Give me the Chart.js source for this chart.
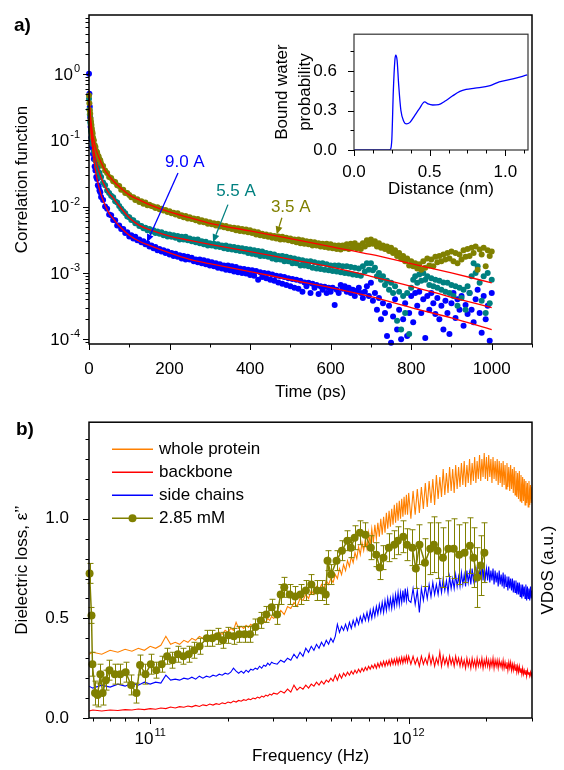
<!DOCTYPE html>
<html>
<head>
<meta charset="utf-8">
<script src="https://cdn.jsdelivr.net/npm/chart.js@4.4.1/dist/chart.umd.min.js"></script>
<style>
  html, body { margin: 0; padding: 0; background: #fff; }
  #page { position: relative; width: 564px; height: 770px; overflow: hidden; }
  canvas { position: absolute; }
  #chartA { left: 0; top: 0; }
  #chartB { left: 0; top: 400px; }
  #inset { left: 270px; top: 15px; }
</style>
</head>
<body>
<div id="page">
  <canvas id="chartA" width="564" height="410"></canvas>
  <canvas id="chartB" width="564" height="370"></canvas>
  <canvas id="inset" width="265" height="190"></canvas>
</div>
<script>
const FONT = '"Liberation Sans", Arial, Helvetica, sans-serif';
Chart.defaults.font.family = FONT;
Chart.defaults.font.size = 17;
Chart.defaults.color = '#000';

const OLIVE = '#808000', TEAL = '#008080', BLUE = '#0000ff', RED = '#ff0000', ORANGE = '#ff8000';

// ---------- panel a: correlation functions ----------
const timePs = [0,1,2,3,4,5,6,7,8,9,10,
  12,14,16,18,20,22,24,26,28,30,
  35,40,45,50,55,60,65,70,75,80,
  85,90,95,100,105,110,115,120,125,130,
  135,140,145,150,155,160,165,170,175,180,
  185,190,195,200,205,210,215,220,225,230,
  235,240,245,250,255,260,265,270,275,280,
  285,290,295,300,305,310,315,320,325,330,
  335,340,345,350,355,360,365,370,375,380,
  385,390,395,400,405,410,415,420,425,430,
  435,440,445,450,455,460,465,470,475,480,
  485,490,495,500,505,510,515,520,525,530,
  535,540,545,550,555,560,565,570,575,580,
  585,590,595,600,605,610,615,620,625,630,
  635,640,645,650,655,660,665,670,675,680,
  685,690,695,700,705,710,715,720,725,730,
  735,740,745,750,755,760,765,770,775,780,
  785,790,795,800,805,810,815,820,825,830,
  835,840,845,850,855,860,865,870,875,880,
  885,890,895,900,905,910,915,920,925,930,
  935,940,945,950,955,960,965,970,975,980,
  985,990,995,1000];

// 3.5 A shell
const corr35 = [4.7e-1,3.6e-1,2.8e-1,2.5e-1,2.1e-1,1.9e-1,1.7e-1,1.5e-1,1.35e-1,1.26e-1,1.1e-1,
  1.0e-1,8.5e-2,7.9e-2,6.9e-2,6.6e-2,5.9e-2,5.7e-2,5.1e-2,5.0e-2,4.5e-2,
  4.1e-2,3.5e-2,3.2e-2,2.8e-2,2.7e-2,2.4e-2,2.35e-2,2.1e-2,2.05e-2,1.8e-2,
  1.8e-2,1.6e-2,1.6e-2,1.5e-2,1.38e-2,1.38e-2,1.26e-2,1.29e-2,1.17e-2,1.2e-2,
  1.1e-2,1.15e-2,1.05e-2,1.07e-2,1.02e-2,1.0e-2,9.5e-3,9.8e-3,9.1e-3,9.3e-3,
  8.7e-3,8.9e-3,8.3e-3,8.5e-3,7.9e-3,8.1e-3,7.6e-3,7.9e-3,7.2e-3,7.4e-3,
  6.9e-3,7.2e-3,6.6e-3,6.9e-3,6.5e-3,6.6e-3,6.2e-3,6.5e-3,5.9e-3,6.2e-3,
  5.8e-3,6.0e-3,5.5e-3,5.8e-3,5.4e-3,5.6e-3,5.2e-3,5.5e-3,5.0e-3,5.2e-3,
  4.9e-3,5.1e-3,4.7e-3,4.9e-3,4.6e-3,4.8e-3,4.4e-3,4.7e-3,4.3e-3,4.6e-3,
  4.2e-3,4.5e-3,4.1e-3,4.4e-3,4.0e-3,4.2e-3,3.8e-3,4.1e-3,3.7e-3,3.9e-3,
  3.6e-3,3.8e-3,3.5e-3,3.7e-3,3.4e-3,3.6e-3,3.3e-3,3.55e-3,3.2e-3,3.5e-3,
  3.2e-3,3.4e-3,3.1e-3,3.3e-3,3.0e-3,3.2e-3,2.9e-3,3.2e-3,2.8e-3,3.1e-3,
  2.75e-3,3.0e-3,2.7e-3,2.95e-3,2.6e-3,2.9e-3,2.6e-3,2.8e-3,2.5e-3,2.75e-3,
  2.45e-3,2.75e-3,2.4e-3,2.7e-3,2.35e-3,2.6e-3,2.3e-3,2.6e-3,2.25e-3,2.6e-3,
  2.35e-3,2.7e-3,2.3e-3,2.75e-3,2.4e-3,2.8e-3,2.35e-3,2.6e-3,2.3e-3,2.8e-3,
  2.5e-3,3.1e-3,2.7e-3,3.2e-3,2.75e-3,3.0e-3,2.5e-3,2.8e-3,2.4e-3,2.6e-3,
  2.3e-3,2.5e-3,2.15e-3,2.4e-3,2.0e-3,2.2e-3,1.8e-3,2.0e-3,1.65e-3,1.8e-3,
  1.5e-3,1.65e-3,1.3e-3,1.5e-3,1.26e-3,1.4e-3,1.17e-3,1.35e-3,1.12e-3,1.5e-3,
  1.2e-3,1.65e-3,1.3e-3,1.6e-3,1.26e-3,1.75e-3,1.45e-3,1.8e-3,1.5e-3,1.9e-3,
  1.6e-3,2.0e-3,1.65e-3,2.1e-3,1.5e-3,2.0e-3,1.4e-3,1.9e-3,1.6e-3,2.2e-3,
  1.75e-3,2.3e-3,1.8e-3,2.4e-3,2.0e-3,2.5e-3,1.12e-3,2.25e-3,1.9e-3,2.4e-3,
  1.26e-3,2.2e-3,1.8e-3,2.1e-3];

// 5.5 A shell
const corr55 = [4.2e-1,2.9e-1,2.45e-1,1.9e-1,1.75e-1,1.4e-1,1.3e-1,1.1e-1,1.05e-1,8.9e-2,8.7e-2,
  6.8e-2,6.2e-2,5.0e-2,4.8e-2,4.0e-2,3.9e-2,3.3e-2,3.2e-2,2.8e-2,2.8e-2,
  2.3e-2,2.1e-2,1.75e-2,1.6e-2,1.45e-2,1.38e-2,1.2e-2,1.15e-2,1.02e-2,9.3e-3,
  8.5e-3,7.9e-3,7.1e-3,6.9e-3,6.3e-3,6.2e-3,5.6e-3,5.6e-3,5.1e-3,5.1e-3,
  4.7e-3,4.8e-3,4.4e-3,4.6e-3,4.2e-3,4.4e-3,4.0e-3,4.2e-3,3.9e-3,4.1e-3,
  3.7e-3,3.9e-3,3.55e-3,3.8e-3,3.5e-3,3.7e-3,3.4e-3,3.6e-3,3.2e-3,3.5e-3,
  3.2e-3,3.5e-3,3.1e-3,3.3e-3,3.0e-3,3.2e-3,2.9e-3,3.2e-3,2.8e-3,3.0e-3,
  2.7e-3,2.95e-3,2.6e-3,2.8e-3,2.6e-3,2.75e-3,2.5e-3,2.7e-3,2.45e-3,2.6e-3,
  2.35e-3,2.6e-3,2.3e-3,2.5e-3,2.25e-3,2.45e-3,2.2e-3,2.4e-3,2.15e-3,2.35e-3,
  2.1e-3,2.3e-3,2.0e-3,2.25e-3,1.95e-3,2.2e-3,1.9e-3,2.15e-3,1.8e-3,2.1e-3,
  1.8e-3,2.0e-3,1.75e-3,1.95e-3,1.65e-3,1.9e-3,1.6e-3,1.8e-3,1.6e-3,1.8e-3,
  1.5e-3,1.75e-3,1.5e-3,1.7e-3,1.4e-3,1.65e-3,1.4e-3,1.6e-3,1.3e-3,1.55e-3,
  1.3e-3,1.5e-3,1.26e-3,1.5e-3,1.2e-3,1.45e-3,1.17e-3,1.4e-3,1.15e-3,1.4e-3,
  1.12e-3,1.35e-3,1.1e-3,1.3e-3,1.07e-3,1.3e-3,1.05e-3,1.3e-3,1.02e-3,1.26e-3,
  1.0e-3,1.26e-3,9.8e-4,1.23e-3,9.5e-4,1.2e-3,9.3e-4,1.17e-3,9.1e-4,1.26e-3,
  1.05e-3,1.4e-3,1.12e-3,1.4e-3,1.1e-3,1.2e-3,8.9e-4,1.0e-3,7.9e-4,8.9e-4,
  6.6e-4,7.6e-4,5.6e-4,7.1e-4,5.0e-4,6.3e-4,1.9e-4,5.2e-4,1.4e-4,4.5e-4,
  2.5e-4,5.0e-4,1.2e-4,6.0e-4,7.9e-4,8.9e-4,7.1e-4,9.5e-4,7.6e-4,1.0e-3,
  7.9e-4,8.9e-4,6.6e-4,8.3e-4,6.3e-4,7.9e-4,6.0e-4,7.6e-4,5.6e-4,7.2e-4,
  5.2e-4,7.1e-4,5.0e-4,6.6e-4,4.5e-4,6.3e-4,3.2e-4,6.0e-4,4.2e-4,5.6e-4,
  2.8e-4,6.3e-4,5.0e-4,8.9e-4,1.4e-3,1.0e-3,1.26e-3,7.1e-4,3.8e-4,8.9e-4,
  2.5e-4,1.0e-3,3.5e-4,7.9e-4];

// 9.0 A shell
const corr90 = [1.0e0,5.0e-1,3.2e-1,2.2e-1,1.6e-1,1.45e-1,1.1e-1,1.0e-1,8.1e-2,7.6e-2,6.2e-2,
  5.2e-2,4.0e-2,3.5e-2,2.8e-2,2.6e-2,2.1e-2,2.0e-2,1.75e-2,1.65e-2,1.4e-2,
  1.26e-2,1.0e-2,9.3e-3,7.6e-3,7.4e-3,6.3e-3,6.2e-3,5.2e-3,5.2e-3,4.6e-3,
  4.6e-3,4.0e-3,4.1e-3,3.55e-3,3.7e-3,3.3e-3,3.5e-3,3.1e-3,3.2e-3,2.9e-3,
  3.0e-3,2.7e-3,2.8e-3,2.5e-3,2.6e-3,2.35e-3,2.45e-3,2.2e-3,2.3e-3,2.1e-3,
  2.2e-3,2.0e-3,2.1e-3,1.9e-3,2.0e-3,1.8e-3,1.95e-3,1.75e-3,1.85e-3,1.65e-3,
  1.8e-3,1.6e-3,1.75e-3,1.6e-3,1.7e-3,1.5e-3,1.6e-3,1.45e-3,1.6e-3,1.4e-3,
  1.55e-3,1.35e-3,1.5e-3,1.3e-3,1.45e-3,1.26e-3,1.4e-3,1.2e-3,1.35e-3,1.17e-3,
  1.3e-3,1.12e-3,1.3e-3,1.1e-3,1.26e-3,1.05e-3,1.23e-3,1.02e-3,1.17e-3,1.0e-3,
  1.15e-3,9.8e-4,1.12e-3,9.3e-4,1.1e-3,9.1e-4,1.07e-3,7.9e-4,1.02e-3,8.7e-4,
  1.0e-3,8.3e-4,9.8e-4,7.9e-4,9.5e-4,7.6e-4,9.1e-4,7.2e-4,8.9e-4,6.9e-4,
  8.7e-4,6.6e-4,8.3e-4,6.3e-4,8.1e-4,6.0e-4,7.9e-4,5.8e-4,7.6e-4,5.2e-4,
  7.2e-4,6.3e-4,7.1e-4,5.0e-4,6.9e-4,6.0e-4,6.6e-4,4.8e-4,6.3e-4,5.6e-4,
  6.2e-4,5.0e-4,6.0e-4,5.2e-4,6.0e-4,3.3e-4,5.6e-4,5.0e-4,6.6e-4,5.8e-4,
  6.3e-4,5.2e-4,6.0e-4,5.0e-4,5.6e-4,4.5e-4,5.4e-4,6.0e-4,5.0e-4,4.2e-4,
  5.2e-4,6.3e-4,4.5e-4,7.1e-4,3.8e-4,5.0e-4,2.8e-4,4.2e-4,2.0e-4,3.5e-4,
  2.5e-4,1.12e-4,3.2e-4,8.9e-5,2.2e-4,4.0e-4,1.4e-4,2.8e-4,1.0e-4,2.0e-4,
  3.5e-4,1.12e-4,2.5e-4,4.5e-4,1.8e-4,5.0e-4,3.2e-4,5.2e-4,2.5e-4,4.0e-4,
  1.05e-4,4.5e-4,2.8e-4,5.0e-4,3.5e-4,2.4e-4,4.2e-4,2.0e-4,3.2e-4,1.4e-4,
  3.8e-4,2.5e-4,1.2e-4,3.5e-4,5.0e-4,2.1e-4,4.0e-4,2.8e-4,4.5e-4,1.6e-4,
  3.3e-4,2.4e-4,5.0e-4,2.8e-4,1.8e-4,4.0e-4,5.6e-4,2.5e-4,1.26e-4,4.5e-4,
  2.0e-4,3.2e-4,9.5e-5,5.0e-4];

// fitted curves (red)
const fitTimePs = [0,2,5,10,15,20,30,40,50,60,75,100,125,150,200,250,300,400,500,600,700,800,900,1000];
const fit35 = [4.5e-1,3.0e-1,1.9e-1,1.15e-1,8.3e-2,6.5e-2,4.6e-2,3.5e-2,2.9e-2,2.45e-2,2.0e-2,1.5e-2,1.26e-2,1.07e-2,8.3e-3,6.8e-3,5.6e-3,4.3e-3,3.3e-3,2.5e-3,1.9e-3,1.38e-3,1.0e-3,7.1e-4];
const fit55 = [4.0e-1,2.4e-1,1.48e-1,8.5e-2,5.6e-2,4.2e-2,2.75e-2,2.0e-2,1.58e-2,1.35e-2,1.02e-2,6.8e-3,5.2e-3,4.5e-3,3.6e-3,3.1e-3,2.7e-3,2.1e-3,1.6e-3,1.23e-3,8.9e-4,6.3e-4,4.3e-4,3.0e-4];
const fit90 = [5.6e-1,2.8e-1,1.4e-1,6.5e-2,3.8e-2,2.6e-2,1.5e-2,1.05e-2,7.9e-3,6.6e-3,5.1e-3,3.7e-3,3.0e-3,2.6e-3,2.0e-3,1.6e-3,1.38e-3,1.05e-3,7.9e-4,6.0e-4,4.4e-4,3.0e-4,2.1e-4,1.4e-4];

// labels with arrows, anchored in data space (time, correlation)
const arrowNotes = [
  { text: '9.0 A', color: BLUE,  label: [238, 4.6e-2], tail: [221, 3.2e-2], head: [144, 2.9e-3] },
  { text: '5.5 A', color: TEAL,  label: [365, 1.68e-2], tail: [345, 1.07e-2], head: [308, 2.9e-3] },
  { text: '3.5 A', color: OLIVE, label: [501, 9.7e-3], tail: [479, 6.8e-3], head: [466, 3.8e-3] }
];

// ---------- inset ----------
const distNm =    [0, 0.23, 0.24, 0.25, 0.26, 0.27, 0.276, 0.285, 0.295, 0.31, 0.33, 0.347, 0.37, 0.40, 0.43, 0.467, 0.49, 0.52, 0.56, 0.60, 0.65, 0.70, 0.741, 0.80, 0.90, 0.96, 1.05, 1.145];
const boundProb = [0, 0,    0.005, 0.08, 0.45, 0.68, 0.72, 0.68, 0.50, 0.30, 0.215, 0.198, 0.21, 0.26, 0.31, 0.366, 0.35, 0.342, 0.345, 0.37, 0.41, 0.445, 0.46, 0.47, 0.49, 0.517, 0.54, 0.571];

// ---------- panel b: dielectric loss / VDoS ----------
const freqLowGHz = [58,60,65,70,75,80,85,90,95,100,
  105,110,115,120,125,130,135,140,145,150,
  155,160,165,170,175,180,185,190,195,200,
  205,210,215,220,225,230,235,240,245,250,
  255,260,265,270,275,280,285,290,295,300];
const freqMidGHz = [310,320,330,340,350,360,370,380,390,400,
  410,420,430,440,450,460,470,480,490,500,
  510,520,530,540,550,560,570,580,590,600,
  610,620,630,640,650,660,670,680,690,700,
  710,720,730,740,750,760,770,780,790,800,
  810,820,830,840,850,860,870,880,890,900,
  910,920,930,940,950,960,970,980,990,1000];
const freqHighGHz = [1020,1040,1060,1080,1100,1120,1140,1160,1180,1200,
  1220,1240,1260,1280,1300,1320,1340,1360,1380,1400,
  1420,1440,1460,1480,1500,1520,1540,1560,1580,1600,
  1620,1640,1660,1680,1700,1720,1740,1760,1780,1800,
  1820,1840,1860,1880,1900,1920,1940,1960,1980,2000,
  2020,2040,2060,2080,2100,2120,2140,2160,2180,2200,
  2220,2240,2260,2280,2300,2320,2340,2360,2380,2400,
  2420,2440,2460,2480,2500,2520,2540,2560,2580,2600,
  2620,2640,2660,2680,2700,2720,2740,2760,2780,2800,
  2820,2840,2860,2880,2900,2920,2940,2960,2980,3000];
const freqGHz = [...freqLowGHz, ...freqMidGHz, ...freqHighGHz];

const vdosWhole = [0.32,0.33,0.32,0.34,0.33,0.345,0.335,0.35,0.34,0.36,
  0.35,0.365,0.41,0.37,0.38,0.37,0.39,0.38,0.40,0.39,
  0.41,0.40,0.415,0.405,0.42,0.41,0.43,0.42,0.44,0.43,
  0.45,0.44,0.48,0.45,0.46,0.45,0.465,0.455,0.47,0.46,
  0.475,0.465,0.48,0.47,0.49,0.48,0.50,0.49,0.51,0.50,
  0.51,0.54,0.52,0.56,0.55,0.58,0.56,0.60,0.59,0.62,
  0.60,0.64,0.62,0.66,0.64,0.67,0.65,0.69,0.67,0.70,
  0.68,0.72,0.70,0.75,0.72,0.77,0.74,0.79,0.76,0.81,
  0.78,0.83,0.80,0.86,0.82,0.88,0.84,0.90,0.85,0.93,
  0.87,0.95,0.88,0.97,0.90,0.98,0.91,1.00,0.92,1.01,
  0.93,1.03,0.95,1.04,0.96,1.05,0.97,1.07,0.98,1.08,
  0.99,1.09,1.00,1.10,1.01,1.11,1.02,1.12,1.02,1.13,
  1.00,1.14,1.02,1.15,1.03,1.16,1.05,1.18,1.06,1.19,
  1.08,1.20,1.07,1.22,1.10,1.21,1.11,1.25,1.12,1.23,
  1.13,1.26,1.14,1.25,1.13,1.27,1.15,1.26,1.16,1.28,
  1.17,1.29,1.16,1.27,1.18,1.30,1.17,1.28,1.19,1.31,
  1.18,1.29,1.20,1.32,1.19,1.30,1.21,1.33,1.20,1.31,
  1.19,1.32,1.21,1.30,1.18,1.31,1.20,1.29,1.19,1.30,
  1.17,1.29,1.18,1.28,1.16,1.29,1.17,1.27,1.15,1.28,
  1.16,1.26,1.14,1.27,1.15,1.25,1.13,1.26,1.12,1.24,
  1.11,1.23,1.10,1.24,1.09,1.22,1.08,1.21,1.09,1.20,
  1.07,1.19,1.08,1.18,1.06,1.19,1.07,1.17,1.08,1.16];

const vdosBackbone = [0.035,0.04,0.035,0.04,0.038,0.042,0.04,0.045,0.042,0.047,
  0.044,0.05,0.047,0.055,0.05,0.057,0.054,0.06,0.056,0.063,
  0.058,0.066,0.062,0.07,0.065,0.072,0.068,0.076,0.072,0.08,
  0.076,0.085,0.08,0.088,0.084,0.092,0.088,0.096,0.092,0.10,
  0.096,0.105,0.10,0.11,0.105,0.115,0.11,0.12,0.115,0.125,
  0.12,0.135,0.125,0.145,0.13,0.165,0.14,0.155,0.145,0.165,
  0.15,0.17,0.16,0.18,0.165,0.185,0.17,0.19,0.18,0.20,
  0.185,0.215,0.19,0.22,0.20,0.225,0.21,0.23,0.215,0.235,
  0.22,0.24,0.225,0.245,0.23,0.25,0.235,0.255,0.24,0.26,
  0.245,0.265,0.25,0.27,0.25,0.275,0.255,0.28,0.26,0.285,
  0.26,0.285,0.265,0.29,0.265,0.295,0.27,0.295,0.27,0.30,
  0.27,0.30,0.275,0.305,0.275,0.305,0.28,0.31,0.28,0.31,
  0.27,0.31,0.27,0.30,0.26,0.31,0.27,0.30,0.27,0.32,
  0.27,0.31,0.26,0.30,0.27,0.33,0.26,0.31,0.27,0.30,
  0.26,0.31,0.27,0.30,0.26,0.31,0.27,0.30,0.26,0.30,
  0.26,0.29,0.25,0.30,0.26,0.29,0.25,0.30,0.26,0.29,
  0.25,0.30,0.26,0.29,0.26,0.30,0.25,0.29,0.26,0.30,
  0.26,0.29,0.25,0.29,0.26,0.30,0.25,0.29,0.26,0.29,
  0.25,0.29,0.26,0.28,0.25,0.29,0.25,0.28,0.25,0.28,
  0.24,0.28,0.25,0.28,0.24,0.27,0.24,0.27,0.24,0.27,
  0.23,0.26,0.23,0.26,0.23,0.25,0.22,0.25,0.22,0.24,
  0.22,0.24,0.21,0.24,0.22,0.23,0.21,0.23,0.21,0.23];

const vdosSide = [0.16,0.15,0.165,0.155,0.17,0.16,0.175,0.165,0.18,0.17,
  0.18,0.175,0.215,0.19,0.195,0.19,0.20,0.195,0.205,0.195,
  0.21,0.20,0.21,0.205,0.215,0.21,0.22,0.215,0.225,0.22,
  0.23,0.25,0.235,0.225,0.235,0.225,0.24,0.23,0.245,0.24,
  0.25,0.245,0.26,0.25,0.265,0.26,0.275,0.265,0.28,0.275,
  0.27,0.29,0.28,0.30,0.29,0.32,0.30,0.33,0.31,0.35,
  0.33,0.36,0.34,0.37,0.35,0.38,0.36,0.39,0.37,0.40,
  0.38,0.41,0.47,0.43,0.46,0.44,0.47,0.44,0.48,0.45,
  0.49,0.46,0.50,0.47,0.51,0.48,0.52,0.49,0.53,0.49,
  0.54,0.50,0.55,0.51,0.56,0.52,0.57,0.53,0.58,0.53,
  0.59,0.54,0.60,0.55,0.60,0.55,0.61,0.56,0.62,0.57,
  0.63,0.57,0.63,0.58,0.64,0.58,0.65,0.59,0.64,0.59,
  0.58,0.65,0.57,0.64,0.53,0.65,0.59,0.66,0.60,0.67,
  0.61,0.68,0.62,0.67,0.62,0.69,0.63,0.70,0.64,0.69,
  0.63,0.71,0.65,0.70,0.65,0.72,0.66,0.71,0.66,0.73,
  0.67,0.72,0.66,0.74,0.68,0.73,0.67,0.75,0.69,0.74,
  0.68,0.76,0.69,0.75,0.70,0.80,0.69,0.76,0.70,0.75,
  0.69,0.76,0.68,0.74,0.69,0.75,0.67,0.74,0.68,0.73,
  0.66,0.74,0.67,0.72,0.66,0.73,0.65,0.72,0.66,0.71,
  0.64,0.71,0.65,0.70,0.64,0.70,0.63,0.69,0.63,0.69,
  0.62,0.68,0.62,0.68,0.61,0.67,0.60,0.67,0.61,0.66,
  0.60,0.67,0.59,0.66,0.60,0.65,0.59,0.66,0.60,0.64];

// measured dielectric loss, 2.85 mM, with error bars
const epsFreqHz = [5.83e10,5.93e10,5.98e10,6.12e10,6.26e10,6.42e10,6.55e10,6.74e10,6.96e10,7.30e10,
  7.66e10,8.04e10,8.44e10,8.85e10,9.14e10,9.59e10,1.006e11,1.056e11,1.108e11,1.163e11,
  1.22e11,1.28e11,1.344e11,1.41e11,1.48e11,1.553e11,1.656e11,1.738e11,1.823e11,1.913e11,
  2.007e11,2.107e11,2.211e11,2.32e11,2.434e11,2.555e11,2.681e11,2.813e11,2.951e11,3.097e11,
  3.198e11,3.302e11,3.465e11,3.637e11,3.816e11,4.004e11,4.202e11,4.41e11,4.627e11,4.778e11,
  4.855e11,5.013e11,5.26e11,5.52e11,5.792e11,5.98e11,6.18e11,6.48e11,6.80e11,7.14e11,
  7.49e11,7.73e11,7.99e11,8.38e11,8.80e11,9.08e11,9.53e11,9.84e11,1.033e12,1.066e12,
  1.101e12,1.156e12,1.212e12,1.252e12,1.293e12,1.357e12,1.424e12,1.494e12,1.568e12,1.645e12,
  1.726e12,1.782e12,1.841e12,1.90e12,1.963e12];
const epsLoss = [0.726,0.515,0.27,0.125,0.116,0.22,0.125,0.19,0.24,0.22,
  0.22,0.23,0.166,0.125,0.266,0.22,0.27,0.24,0.27,0.31,
  0.29,0.32,0.31,0.32,0.34,0.36,0.40,0.40,0.41,0.39,
  0.415,0.41,0.42,0.42,0.42,0.457,0.49,0.52,0.556,0.52,
  0.62,0.656,0.62,0.61,0.62,0.64,0.67,0.64,0.64,0.62,
  0.79,0.72,0.79,0.84,0.89,0.855,0.905,0.93,0.92,0.855,
  0.82,0.755,0.805,0.855,0.87,0.89,0.91,0.87,0.855,0.75,
  0.87,0.78,0.85,0.87,0.84,0.805,0.85,0.85,0.82,0.83,
  0.865,0.805,0.705,0.765,0.83];
const epsErr = [0.05,0.04,0.06,0.06,0.06,0.05,0.06,0.05,0.05,0.05,
  0.05,0.05,0.05,0.05,0.05,0.05,0.05,0.04,0.04,0.04,
  0.04,0.04,0.04,0.04,0.04,0.04,0.04,0.04,0.04,0.04,
  0.04,0.04,0.04,0.04,0.04,0.04,0.04,0.04,0.04,0.05,
  0.05,0.05,0.05,0.05,0.05,0.05,0.05,0.05,0.05,0.05,
  0.05,0.05,0.05,0.05,0.05,0.05,0.06,0.06,0.06,0.06,
  0.06,0.06,0.06,0.07,0.07,0.07,0.08,0.08,0.09,0.10,
  0.10,0.12,0.13,0.14,0.14,0.15,0.14,0.15,0.15,0.15,
  0.14,0.15,0.15,0.15,0.15];

// ---------- helpers ----------
function pairs(xs, ys, k) {
  return ys.map((y, i) => ({ x: xs[i] * (k || 1), y: y }));
}

function drawPow(ctx, exp, x, y, align) {
  const main = '10', sup = String(exp);
  ctx.font = '17px ' + FONT;
  const wm = ctx.measureText(main).width;
  ctx.font = '11px ' + FONT;
  const ws = ctx.measureText(sup).width;
  const total = wm + ws + 1;
  const left = align === 'right' ? x - total : x - total / 2;
  ctx.textAlign = 'left';
  ctx.textBaseline = 'middle';
  ctx.font = '17px ' + FONT;
  ctx.fillText(main, left, y);
  ctx.font = '11px ' + FONT;
  ctx.fillText(sup, left + wm + 1, y - 6);
}

// frame, tick marks and extra drawing for one chart
function decor(name, spec) {
  return {
    id: name,
    afterDraw(chart) {
      const ctx = chart.ctx, a = chart.chartArea;
      ctx.save();
      ctx.strokeStyle = spec.frameColor || '#000';
      ctx.lineWidth = spec.frameWidth || 1.5;
      ctx.strokeRect(a.left, a.top, a.right - a.left, a.bottom - a.top);
      ctx.strokeStyle = '#000';
      ctx.lineWidth = 1;
      spec.marks.forEach(m => {
        const s = chart.scales[m.axis];
        [[m.major, 6], [m.minor, 3.5]].forEach(([vals, len]) => {
          vals.forEach(v => {
            const p = Math.round(s.getPixelForValue(v)) + 0.5;
            ctx.beginPath();
            if (s.isHorizontal()) {
              ctx.moveTo(p, a.bottom); ctx.lineTo(p, a.bottom + len);
            } else {
              ctx.moveTo(a.left, p); ctx.lineTo(a.left - len, p);
            }
            ctx.stroke();
          });
        });
      });
      if (spec.extra) spec.extra(chart, ctx, a);
      ctx.restore();
    }
  };
}

const hideGrid = { display: false };
const noBorder = { display: false };

// ---------- panel a ----------
const logMinor = [];
for (let e = -5; e <= 0; e++) {
  for (let m = 2; m <= 9; m++) {
    const v = m * Math.pow(10, e);
    if (v > 8.5e-5 && v < 7.7) logMinor.push(v);
  }
}

const dots = (label, vals, color) => ({
  label, data: pairs(timePs, vals), backgroundColor: color, borderColor: color,
  pointRadius: 3, pointBorderWidth: 0, clip: 3, order: 1
});
const fitLine = (vals) => ({
  label: 'fit', data: pairs(fitTimePs, vals), showLine: true, borderColor: RED,
  borderWidth: 1.3, pointRadius: 0, cubicInterpolationMode: 'monotone', order: 0
});

new Chart(document.getElementById('chartA'), {
  type: 'scatter',
  data: {
    datasets: [
      dots('3.5 A', corr35, OLIVE),
      dots('5.5 A', corr55, TEAL),
      dots('9.0 A', corr90, BLUE),
      fitLine(fit35), fitLine(fit55), fitLine(fit90)
    ]
  },
  options: {
    responsive: false, animation: false, devicePixelRatio: 1,
    layout: { padding: { top: 15, right: 32, left: 0, bottom: 0 } },
    plugins: { legend: { display: false }, tooltip: { enabled: false } },
    scales: {
      x: {
        type: 'linear', min: 0, max: 1100, grid: hideGrid, border: noBorder,
        ticks: { stepSize: 200, includeBounds: false, padding: 7, maxRotation: 0, autoSkip: false,
                 callback: v => String(v) },
        title: { display: true, text: 'Time (ps)', padding: { top: 0, bottom: 7 } },
        afterFit: s => { s.height = 66; }
      },
      y: {
        type: 'logarithmic', min: 8.5e-5, max: 7.7, grid: hideGrid, border: noBorder,
        ticks: { display: false },
        title: { display: true, text: 'Correlation function', padding: { top: 12, bottom: 0 } },
        afterFit: s => { s.width = 89; }
      }
    }
  },
  plugins: [decor('decorA', {
    marks: [
      { axis: 'x', major: [0, 200, 400, 600, 800, 1000], minor: [100, 300, 500, 700, 900, 1100] },
      { axis: 'y', major: [1e-4, 1e-3, 1e-2, 1e-1, 1], minor: logMinor }
    ],
    extra(chart, ctx, a) {
      const xs = chart.scales.x, ys = chart.scales.y;
      ctx.fillStyle = '#000';
      [-4, -3, -2, -1, 0].forEach(e => drawPow(ctx, e, 80, ys.getPixelForValue(Math.pow(10, e)) + 1, 'right'));
      arrowNotes.forEach(n => {
        ctx.fillStyle = n.color;
        ctx.strokeStyle = n.color;
        ctx.font = '17px ' + FONT;
        ctx.textAlign = 'center';
        ctx.textBaseline = 'middle';
        ctx.fillText(n.text, xs.getPixelForValue(n.label[0]), ys.getPixelForValue(n.label[1]));
        const x1 = xs.getPixelForValue(n.tail[0]), y1 = ys.getPixelForValue(n.tail[1]);
        const x2 = xs.getPixelForValue(n.head[0]), y2 = ys.getPixelForValue(n.head[1]);
        const ang = Math.atan2(y2 - y1, x2 - x1);
        const bx = x2 - 8 * Math.cos(ang), by = y2 - 8 * Math.sin(ang);
        ctx.lineWidth = 1.3;
        ctx.beginPath(); ctx.moveTo(x1, y1); ctx.lineTo(bx, by); ctx.stroke();
        ctx.beginPath();
        ctx.moveTo(x2, y2);
        ctx.lineTo(bx + 3.5 * Math.sin(ang), by - 3.5 * Math.cos(ang));
        ctx.lineTo(bx - 3.5 * Math.sin(ang), by + 3.5 * Math.cos(ang));
        ctx.closePath(); ctx.fill();
      });
      ctx.fillStyle = '#000';
      ctx.font = 'bold 19px ' + FONT;
      ctx.textAlign = 'left';
      ctx.textBaseline = 'middle';
      ctx.fillText('a)', 14, 26);
    }
  })]
});

// ---------- inset ----------
new Chart(document.getElementById('inset'), {
  type: 'scatter',
  data: {
    datasets: [{
      data: pairs(distNm, boundProb), showLine: true, borderColor: BLUE, borderWidth: 1.3,
      pointRadius: 0, cubicInterpolationMode: 'monotone'
    }]
  },
  options: {
    responsive: false, animation: false, devicePixelRatio: 1,
    layout: { padding: { top: 4, right: 7, left: 0, bottom: 0 } },
    plugins: { legend: { display: false }, tooltip: { enabled: false } },
    scales: {
      x: {
        type: 'linear', min: 0, max: 1.15, grid: hideGrid, border: noBorder,
        ticks: { stepSize: 0.5, includeBounds: false, padding: 4, maxRotation: 0, callback: v => v.toFixed(1) },
        title: { display: true, text: 'Distance (nm)', padding: { top: 0, bottom: 5 } },
        afterFit: s => { s.height = 55; }
      },
      y: {
        type: 'linear', min: 0, max: 0.88, grid: hideGrid, border: noBorder,
        ticks: { stepSize: 0.3, includeBounds: false, padding: 9, callback: v => v.toFixed(1) },
        title: { display: true, text: ['Bound water', 'probability'], font: { size: 17, lineHeight: 1.4 },
                 padding: { top: 0, bottom: 0 } },
        afterFit: s => { s.width = 84; }
      }
    }
  },
  plugins: [decor('decorInset', {
    frameColor: '#333', frameWidth: 1.2,
    marks: [
      { axis: 'x', major: [0, 0.5, 1.0], minor: [0.125, 0.25, 0.375, 0.625, 0.75, 0.875, 1.125] },
      { axis: 'y', major: [0, 0.3, 0.6], minor: [0.15, 0.45, 0.75] }
    ]
  })]
});

// ---------- panel b ----------
const spectrum = (label, vals, color) => ({
  label, data: pairs(freqGHz, vals, 1e9), showLine: true, borderColor: color, backgroundColor: color,
  borderWidth: 1.1, pointRadius: 0
});

const legendOrder = [3, 2, 1, 0];

new Chart(document.getElementById('chartB'), {
  type: 'scatter',
  data: {
    datasets: [
      {
        label: '2.85 mM', data: pairs(epsFreqHz, epsLoss), errors: epsErr, showLine: true,
        borderColor: OLIVE, backgroundColor: OLIVE, borderWidth: 1.5,
        pointRadius: 4, pointBorderWidth: 0, clip: 5
      },
      spectrum('side chains', vdosSide, BLUE),
      spectrum('backbone', vdosBackbone, RED),
      spectrum('whole protein', vdosWhole, ORANGE)
    ]
  },
  options: {
    responsive: false, animation: false, devicePixelRatio: 1,
    layout: { padding: { top: 21, right: 32, left: 0, bottom: 0 } },
    plugins: { legend: { display: false }, tooltip: { enabled: false } },
    scales: {
      x: {
        type: 'logarithmic', min: 5.8e10, max: 3e12, grid: hideGrid, border: noBorder,
        ticks: { display: false },
        title: { display: true, text: 'Frequency (Hz)', padding: { top: 0, bottom: 3 } },
        afterFit: s => { s.height = 52; }
      },
      y: {
        type: 'linear', min: 0, max: 1.485, grid: hideGrid, border: noBorder,
        ticks: { stepSize: 0.5, includeBounds: false, padding: 12, callback: v => v.toFixed(1) },
        title: { display: true, text: 'Dielectric loss, \u03b5\u2019\u2019', padding: { top: 12, bottom: 0 } },
        afterFit: s => { s.width = 89; }
      }
    }
  },
  plugins: [{
    id: 'errorBars',
    beforeDatasetDraw(chart, args) {
      const ds = chart.data.datasets[args.index];
      if (!ds.errors) return;
      const ctx = chart.ctx, a = chart.chartArea, xs = chart.scales.x, ys = chart.scales.y;
      ctx.save();
      ctx.beginPath();
      ctx.rect(a.left - 5, a.top, a.right - a.left + 5, a.bottom - a.top);
      ctx.clip();
      ctx.strokeStyle = ds.borderColor;
      ctx.lineWidth = 1;
      ds.data.forEach((p, i) => {
        const x = Math.round(xs.getPixelForValue(p.x)) + 0.5;
        const lo = ys.getPixelForValue(p.y - ds.errors[i]);
        const hi = ys.getPixelForValue(p.y + ds.errors[i]);
        ctx.beginPath();
        ctx.moveTo(x, lo); ctx.lineTo(x, hi);
        ctx.moveTo(x - 3, lo); ctx.lineTo(x + 3, lo);
        ctx.moveTo(x - 3, hi); ctx.lineTo(x + 3, hi);
        ctx.stroke();
      });
      ctx.restore();
    }
  }, decor('decorB', {
    marks: [
      { axis: 'x', major: [1e11, 1e12],
        minor: [6e10, 7e10, 8e10, 9e10, 2e11, 3e11, 4e11, 5e11, 6e11, 7e11, 8e11, 9e11, 2e12, 3e12] },
      { axis: 'y', major: [0, 0.5, 1.0], minor: [0.1, 0.2, 0.3, 0.4, 0.6, 0.7, 0.8, 0.9, 1.1, 1.2, 1.3, 1.4] }
    ],
    extra(chart, ctx, a) {
      const xs = chart.scales.x;
      ctx.fillStyle = '#000';
      [11, 12].forEach(e => drawPow(ctx, e, xs.getPixelForValue(Math.pow(10, e)), a.bottom + 21, 'center'));

      // legend
      legendOrder.forEach((idx, row) => {
        const ds = chart.data.datasets[idx];
        const y = a.top + 27 + row * 23;
        ctx.strokeStyle = ds.borderColor;
        ctx.lineWidth = 1.5;
        ctx.beginPath(); ctx.moveTo(a.left + 23, y); ctx.lineTo(a.left + 64, y); ctx.stroke();
        if (ds.pointRadius > 0) {
          ctx.fillStyle = ds.backgroundColor;
          ctx.beginPath(); ctx.arc(a.left + 43.5, y, 4, 0, Math.PI * 2); ctx.fill();
        }
        ctx.fillStyle = '#000';
        ctx.font = '17px ' + FONT;
        ctx.textAlign = 'left';
        ctx.textBaseline = 'middle';
        ctx.fillText(ds.label, a.left + 70, y);
      });

      // right axis title
      ctx.save();
      ctx.translate(548, (a.top + a.bottom) / 2);
      ctx.rotate(-Math.PI / 2);
      ctx.textAlign = 'center';
      ctx.textBaseline = 'middle';
      ctx.font = '17px ' + FONT;
      ctx.fillText('VDoS (a.u.)', 0, 0);
      ctx.restore();

      ctx.font = 'bold 19px ' + FONT;
      ctx.textAlign = 'left';
      ctx.textBaseline = 'middle';
      ctx.fillText('b)', 16, 30);
    }
  })]
});
</script>
</body>
</html>
